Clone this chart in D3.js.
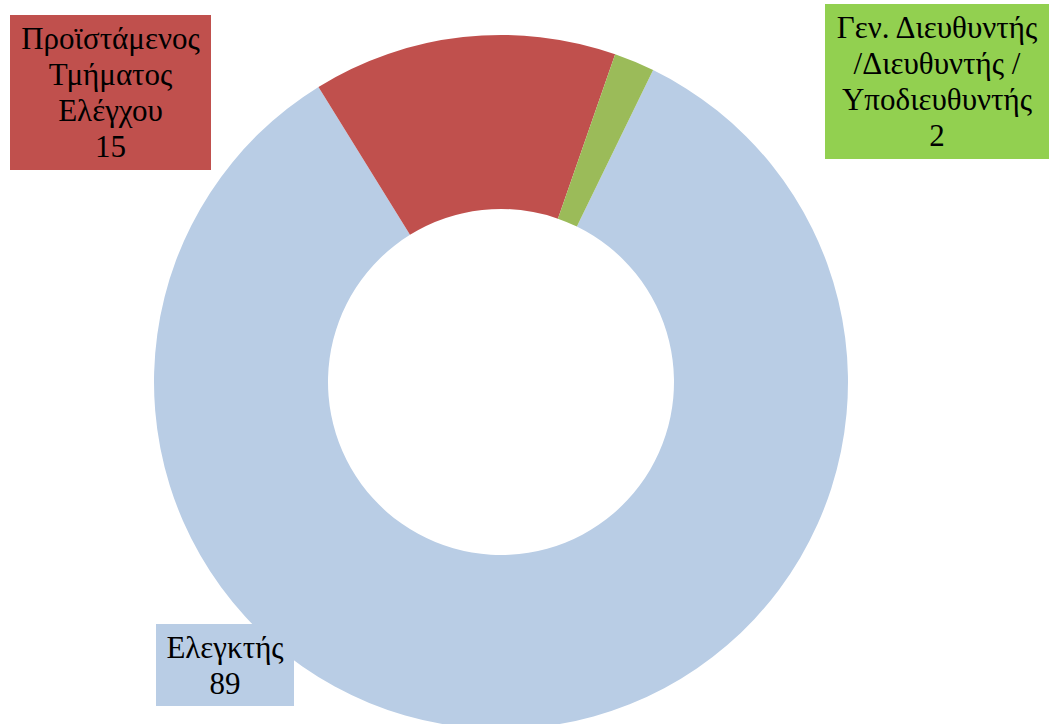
<!DOCTYPE html>
<html>
<head>
<meta charset="utf-8">
<script src="https://cdn.jsdelivr.net/npm/d3@7"></script>
<style>
  html, body { margin: 0; padding: 0; background: #fff; }
  svg { display: block; }
  .lbl { font-family: "Liberation Serif", "Times New Roman", Times, serif; }
</style>
</head>
<body>
<svg id="chart" width="1049" height="724"></svg>
<script>
// Staff positions (drawing order clockwise from the first-slice angle)
const categories = ["Ελεγκτής", "Προϊστάμενος Τμήματος Ελέγχου", "Γεν. Διευθυντής /Διευθυντής / Υποδιευθυντής"];
const values = [89, 15, 2];
const sliceColors = ["#B9CDE5", "#C0504D", "#9BBB59"];
const labelColors = ["#B9CDE5", "#C0504D", "#92D050"];
const labelLines = [
  ["Ελεγκτής", "89"],
  ["Προϊστάμενος", "Τμήματος", "Ελέγχου", "15"],
  ["Γεν. Διευθυντής", "/Διευθυντής /", "Υποδιευθυντής", "2"]
];
// label boxes: [x, y, w, h]
const labelBoxes = [
  [156, 624, 138, 82],
  [10, 15, 201, 155],
  [825, 4, 224, 155]
];

const svg = d3.select("#chart");
const cx = 501, cy = 382, outerR = 347, innerR = 173;
const firstAngle = 26 * Math.PI / 180;

const pie = d3.pie().sort(null).value(d => d)
  .startAngle(firstAngle).endAngle(firstAngle + 2 * Math.PI);
const arc = d3.arc().innerRadius(innerR).outerRadius(outerR);

svg.append("g").attr("transform", `translate(${cx},${cy})`)
  .selectAll("path").data(pie(values)).join("path")
  .attr("d", arc)
  .attr("fill", (d, i) => sliceColors[i]);

const lineH = 36;
labelBoxes.forEach((b, i) => {
  const g = svg.append("g");
  g.append("rect").attr("x", b[0]).attr("y", b[1]).attr("width", b[2]).attr("height", b[3])
    .attr("fill", labelColors[i]);
  const lines = labelLines[i];
  const midY = b[1] + b[3] / 2;
  const startY = midY - (lines.length - 1) * lineH / 2;
  g.selectAll("text").data(lines).join("text")
    .attr("class", "lbl")
    .attr("x", b[0] + b[2] / 2)
    .attr("y", (d, j) => startY + j * lineH)
    .attr("dy", "0.35em")
    .attr("text-anchor", "middle")
    .style("font-size", "31px")
    .attr("fill", "#000")
    .text(d => d);
});
</script>
</body>
</html>
